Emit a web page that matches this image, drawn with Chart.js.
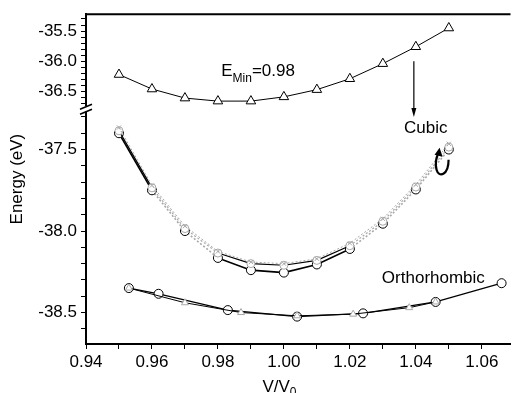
<!DOCTYPE html>
<html>
<head>
<meta charset="utf-8">
<script src="https://cdn.jsdelivr.net/npm/chart.js@4/dist/chart.umd.min.js"></script>
<style>
  html, body { margin: 0; padding: 0; background: #fff; overflow: hidden; }
  #chart { display: block; }
</style>
</head>
<body>
<canvas id="chart" width="517" height="393"></canvas>
<script>
// V/V0 vs energy, cubic (upper panel + lower curves) and orthorhombic
const volumes = [0.95, 0.96, 0.97, 0.98, 0.99, 1.00, 1.01, 1.02, 1.03, 1.04, 1.05];
const cubicTop = [-36.22, -36.46, -36.61, -36.66, -36.66, -36.59, -36.47, -36.29, -36.04, -35.76, -35.45];
const cubicLowA = [-37.40, -37.75, -38.00, -38.165, -38.24, -38.255, -38.205, -38.11, -37.955, -37.745, -37.50];
const cubicLowB = [-37.385, -37.735, -37.985, -38.135, -38.2, -38.21, -38.18, -38.09, -37.94, -37.73, -37.485];
const cubicLowC = [-37.365, -37.72, -37.97, -38.125, -38.19, -38.2, -38.17, -38.075, -37.925, -37.715, -37.465];
const orthoVolA = [0.953, 0.962, 0.983, 1.004, 1.024, 1.046, 1.066];
const orthoEA = [-38.35, -38.385, -38.485, -38.525, -38.505, -38.435, -38.32];
const orthoVolB = [0.953, 0.970, 0.987, 1.004, 1.021, 1.038, 1.046];
const orthoEB = [-38.35, -38.44, -38.50, -38.52, -38.51, -38.47, -38.435];

const FONT = 'Liberation Sans, Arial, sans-serif';
const GRAY = '#a8a8a8';
const pts = (xs, ys) => xs.map((x, i) => ({ x, y: ys[i] }));

// black for measured-looking segments, dotted gray elsewhere
const blackSegs = new Set([0, 3, 4, 5, 6]);
const segStyle = {
  borderColor: c => blackSegs.has(c.p0DataIndex) ? '#000' : GRAY,
  borderDash: c => blackSegs.has(c.p0DataIndex) ? [] : [2, 2],
};

const yTicks = {
  color: '#000', font: { family: FONT, size: 17 }, padding: 4, stepSize: 0.1, includeBounds: false, autoSkip: false,
  callback: v => Math.abs(v * 2 - Math.round(v * 2)) < 1e-6 ? v.toFixed(1) : '',
};
const axisGrid = { drawOnChartArea: false, drawTicks: true, tickLength: 5, tickColor: '#000' };

const decor = {
  id: 'decor',
  afterDraw(chart) {
    const { ctx, chartArea: a, scales } = chart;
    const xs = scales.x, yt = scales.yTop, yb = scales.yBot;
    ctx.save();
    // top frame
    ctx.strokeStyle = '#000'; ctx.lineWidth = 2;
    ctx.beginPath(); ctx.moveTo(a.left - 1, a.top); ctx.lineTo(a.right, a.top); ctx.stroke();
    // axis break
    const by = yt.bottom;
    ctx.fillStyle = '#fff';
    ctx.fillRect(a.left - 3, by - 2, 6, 5);
    ctx.lineWidth = 1.6;
    ctx.beginPath();
    ctx.moveTo(a.left - 6, by + 1); ctx.lineTo(a.left + 6, by - 4);
    ctx.moveTo(a.left - 6, by + 6); ctx.lineTo(a.left + 6, by + 1);
    ctx.stroke();

    ctx.fillStyle = '#000';
    ctx.textBaseline = 'alphabetic';
    // E_Min label
    let x = xs.getPixelForValue(0.981), y = yt.getPixelForValue(-36.25);
    ctx.font = '17px ' + FONT;
    ctx.fillText('E', x, y);
    x += ctx.measureText('E').width;
    ctx.font = '12px ' + FONT;
    ctx.fillText('Min', x, y + 6);
    x += ctx.measureText('Min').width;
    ctx.font = '17px ' + FONT;
    ctx.fillText('=0.98', x, y);

    // Cubic / Orthorhombic labels
    ctx.fillText('Cubic', xs.getPixelForValue(1.0364), yb.getPixelForValue(-37.4));
    ctx.fillText('Orthorhombic', xs.getPixelForValue(1.0297), yb.getPixelForValue(-38.32));

    // arrow down to Cubic
    const ax = xs.getPixelForValue(1.0394);
    const ay0 = yt.getPixelForValue(-36.0), ay1 = yb.getPixelForValue(-37.3);
    ctx.lineWidth = 1.2;
    ctx.beginPath(); ctx.moveTo(ax, ay0); ctx.lineTo(ax, ay1 - 4); ctx.stroke();
    ctx.beginPath(); ctx.moveTo(ax - 2.5, ay1 - 9); ctx.lineTo(ax, ay1); ctx.lineTo(ax + 2.5, ay1 - 9); ctx.closePath(); ctx.fill();

    // curved arrow near cubic curves
    const cx = xs.getPixelForValue(1.0475), cy = yb.getPixelForValue(-37.6);
    ctx.lineWidth = 2.2;
    ctx.beginPath();
    ctx.moveTo(cx + 8, cy - 6);
    ctx.bezierCurveTo(cx + 8, cy + 10, cx - 2, cy + 12, cx - 4, cy + 4);
    ctx.bezierCurveTo(cx - 6, cy - 3, cx - 4, cy - 9, cx - 2, cy - 13);
    ctx.stroke();
    ctx.beginPath(); ctx.moveTo(cx - 1, cy - 18); ctx.lineTo(cx + 2, cy - 9); ctx.lineTo(cx - 6, cy - 11); ctx.closePath(); ctx.fill();

    // axis titles
    ctx.font = '17px ' + FONT;
    ctx.save();
    ctx.translate(22, (a.top + a.bottom) / 2);
    ctx.rotate(-Math.PI / 2);
    ctx.textAlign = 'center';
    ctx.fillText('Energy (eV)', 0, 0);
    ctx.restore();
    const tx = xs.getPixelForValue(0.9935), ty = 392;
    ctx.fillText('V/V', tx, ty);
    const w = ctx.measureText('V/V').width;
    ctx.font = '12px ' + FONT;
    ctx.fillText('0', tx + w, ty + 4);
    ctx.restore();
  }
};

new Chart(document.getElementById('chart'), {
  type: 'line',
  data: {
    datasets: [
      { data: pts(volumes, cubicTop), yAxisID: 'yTop', borderColor: '#000', borderWidth: 1,
        pointStyle: 'triangle', pointRadius: 5.5, pointBackgroundColor: '#fff', pointBorderColor: '#000', pointBorderWidth: 1 },
      { data: pts(volumes, cubicLowC), yAxisID: 'yBot', borderColor: GRAY, borderWidth: 1, borderDash: [2, 2],
        pointStyle: 'crossRot', pointRadius: 3, pointBorderColor: GRAY, pointBorderWidth: 1 },
      { data: pts(volumes, cubicLowB), yAxisID: 'yBot', borderWidth: 1.2, segment: segStyle,
        pointRadius: 4, pointBackgroundColor: '#fff', pointBorderColor: GRAY, pointBorderWidth: 1 },
      { data: pts(volumes, cubicLowA), yAxisID: 'yBot', borderWidth: 1.6, segment: segStyle,
        pointRadius: 4.5, pointBackgroundColor: '#fff', pointBorderColor: '#000', pointBorderWidth: 1 },
      { data: pts(orthoVolB, orthoEB), yAxisID: 'yBot', borderColor: '#000', borderWidth: 1,
        pointStyle: 'triangle', pointRadius: 4, pointBackgroundColor: '#fff', pointBorderColor: GRAY, pointBorderWidth: 1 },
      { data: pts(orthoVolA, orthoEA), yAxisID: 'yBot', borderColor: '#000', borderWidth: 1.3,
        pointRadius: 4.5, pointBackgroundColor: '#fff', pointBorderColor: '#000', pointBorderWidth: 1 },
    ],
  },
  options: {
    responsive: false, animation: false, tension: 0,
    layout: { padding: { top: 11, left: 0, right: 0, bottom: 0 } },
    plugins: { legend: { display: false }, tooltip: { enabled: false } },
    scales: {
      x: {
        type: 'linear', min: 0.94, max: 1.0687,
        border: { color: '#000', width: 2 },
        grid: axisGrid,
        ticks: {
          color: '#000', font: { family: FONT, size: 17 }, padding: 3, stepSize: 0.01, includeBounds: false,
          maxRotation: 0, autoSkip: false,
          callback: v => Math.round(v * 100) % 2 === 0 ? v.toFixed(2) : '',
        },
        afterFit: s => { s.height = 49; },
      },
      // stacked left axes are placed bottom-up, so the lower panel comes first
      yBot: {
        type: 'linear', position: 'left', stack: 'e', stackWeight: 238,
        min: -38.693, max: -37.247,
        border: { color: '#000', width: 2 }, grid: axisGrid, ticks: yTicks,
        afterFit: s => { s.width = 86; },
      },
      yTop: {
        type: 'linear', position: 'left', stack: 'e', stackWeight: 95,
        min: -36.779, max: -35.221,
        border: { color: '#000', width: 2 }, grid: axisGrid, ticks: yTicks,
        afterFit: s => { s.width = 86; },
      },
    },
  },
  plugins: [decor],
});
</script>
</body>
</html>
